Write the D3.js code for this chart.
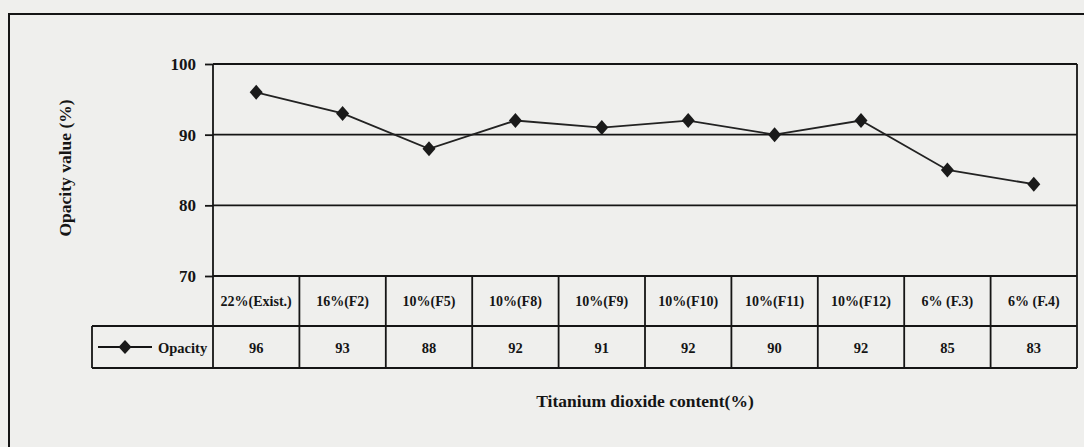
<!DOCTYPE html>
<html>
<head>
<meta charset="utf-8">
<script src="https://cdn.jsdelivr.net/npm/d3@7"></script>
<style>
  html, body { margin: 0; padding: 0; background: #efefed; }
  svg { display: block; }
  text { font-family: "Liberation Serif", "Times New Roman", serif; font-weight: bold; fill: #151515; }
</style>
</head>
<body>
<svg id="chart" width="1084" height="447"></svg>
<script>
// Opacity of formulations by titanium dioxide content
const categories = ["22%(Exist.)", "16%(F2)", "10%(F5)", "10%(F8)", "10%(F9)", "10%(F10)", "10%(F11)", "10%(F12)", "6% (F.3)", "6% (F.4)"];
const opacity = [96, 93, 88, 92, 91, 92, 90, 92, 85, 83];
const yTicks = [70, 80, 90, 100];
const seriesName = "Opacity";
const yTitle = "Opacity value (%)";
const xTitle = "Titanium dioxide content(%)";

const svg = d3.select("#chart");
const ink = "#151515";
const sw = 1.8;

const plot = { left: 213, right: 1077, top: 64, bottom: 276 };
const table = { catBottom: 326, valBottom: 368, legendLeft: 92 };

const x = d3.scaleBand().domain(categories).range([plot.left, plot.right]);
const y = d3.scaleLinear().domain([70, 100]).range([plot.bottom, plot.top]);

// outer frame
svg.append("rect")
  .attr("x", 9).attr("y", 14).attr("width", 1100).attr("height", 460)
  .attr("fill", "#efefed").attr("stroke", ink).attr("stroke-width", 2);

// horizontal gridlines
svg.append("g").selectAll("line").data(yTicks).join("line")
  .attr("x1", plot.left).attr("x2", plot.right)
  .attr("y1", d => y(d)).attr("y2", d => y(d))
  .attr("stroke", ink).attr("stroke-width", sw);

// right border of plot
svg.append("line")
  .attr("x1", plot.right).attr("x2", plot.right)
  .attr("y1", plot.top).attr("y2", plot.bottom)
  .attr("stroke", ink).attr("stroke-width", sw);

// y axis with outward ticks
const yAxis = d3.axisLeft(y).tickValues(yTicks).tickSize(8).tickPadding(9).tickFormat(d3.format("d"));
const gy = svg.append("g").attr("transform", `translate(${plot.left},0)`).call(yAxis);
gy.select(".domain").remove();
gy.selectAll(".tick line").attr("stroke", ink).attr("stroke-width", sw);
gy.selectAll(".tick text").attr("font-size", 17).attr("font-family", "Liberation Serif").attr("font-weight", "bold").attr("fill", ink);

// data table: column verticals
const colEdges = categories.map(c => x(c)).concat([plot.right]);
svg.append("g").selectAll("line").data(colEdges).join("line")
  .attr("x1", d => d).attr("x2", d => d)
  .attr("y1", (d, i) => i === 0 ? plot.top : plot.bottom)
  .attr("y2", table.valBottom)
  .attr("stroke", ink).attr("stroke-width", sw);

// table horizontal lines
svg.append("line").attr("x1", table.legendLeft).attr("x2", plot.right)
  .attr("y1", table.catBottom).attr("y2", table.catBottom)
  .attr("stroke", ink).attr("stroke-width", sw);
svg.append("line").attr("x1", table.legendLeft).attr("x2", plot.right)
  .attr("y1", table.valBottom).attr("y2", table.valBottom)
  .attr("stroke", ink).attr("stroke-width", sw);
svg.append("line").attr("x1", table.legendLeft).attr("x2", table.legendLeft)
  .attr("y1", table.catBottom).attr("y2", table.valBottom)
  .attr("stroke", ink).attr("stroke-width", sw);

// category labels
svg.append("g").selectAll("text").data(categories).join("text")
  .attr("x", d => x(d) + x.bandwidth() / 2)
  .attr("y", (plot.bottom + table.catBottom) / 2)
  .attr("text-anchor", "middle").attr("dominant-baseline", "central")
  .attr("font-size", 14)
  .text(d => d);

// value labels
svg.append("g").selectAll("text").data(opacity).join("text")
  .attr("x", (d, i) => x(categories[i]) + x.bandwidth() / 2)
  .attr("y", (table.catBottom + table.valBottom) / 2 + 1)
  .attr("text-anchor", "middle").attr("dominant-baseline", "central")
  .attr("font-size", 14.5)
  .text(d => d);

// diamond marker path
const diamond = (cx, cy, w, h) => `M${cx},${cy - h}L${cx + w},${cy}L${cx},${cy + h}L${cx - w},${cy}Z`;

// legend key
const ly = (table.catBottom + table.valBottom) / 2;
svg.append("line").attr("x1", 98).attr("x2", 152).attr("y1", ly).attr("y2", ly)
  .attr("stroke", ink).attr("stroke-width", sw);
svg.append("path").attr("d", diamond(125, ly, 6.5, 7)).attr("fill", "#1a1a1a");
svg.append("text").attr("x", 158).attr("y", ly + 1)
  .attr("dominant-baseline", "central").attr("font-size", 14.5).text(seriesName);

// series line
const pts = opacity.map((v, i) => [x(categories[i]) + x.bandwidth() / 2, y(v)]);
svg.append("path").datum(pts)
  .attr("d", d3.line())
  .attr("fill", "none").attr("stroke", "#222").attr("stroke-width", sw);
svg.append("g").selectAll("path").data(pts).join("path")
  .attr("d", d => diamond(d[0], d[1], 6.5, 7.5))
  .attr("fill", "#1a1a1a");

// axis titles
svg.append("text")
  .attr("transform", `translate(65,168) rotate(-90)`)
  .attr("text-anchor", "middle").attr("dominant-baseline", "central")
  .attr("font-size", 17.5).text(yTitle);
svg.append("text")
  .attr("x", (plot.left + plot.right) / 2).attr("y", 401)
  .attr("text-anchor", "middle").attr("dominant-baseline", "central")
  .attr("font-size", 17.5).text(xTitle);
</script>
</body>
</html>
